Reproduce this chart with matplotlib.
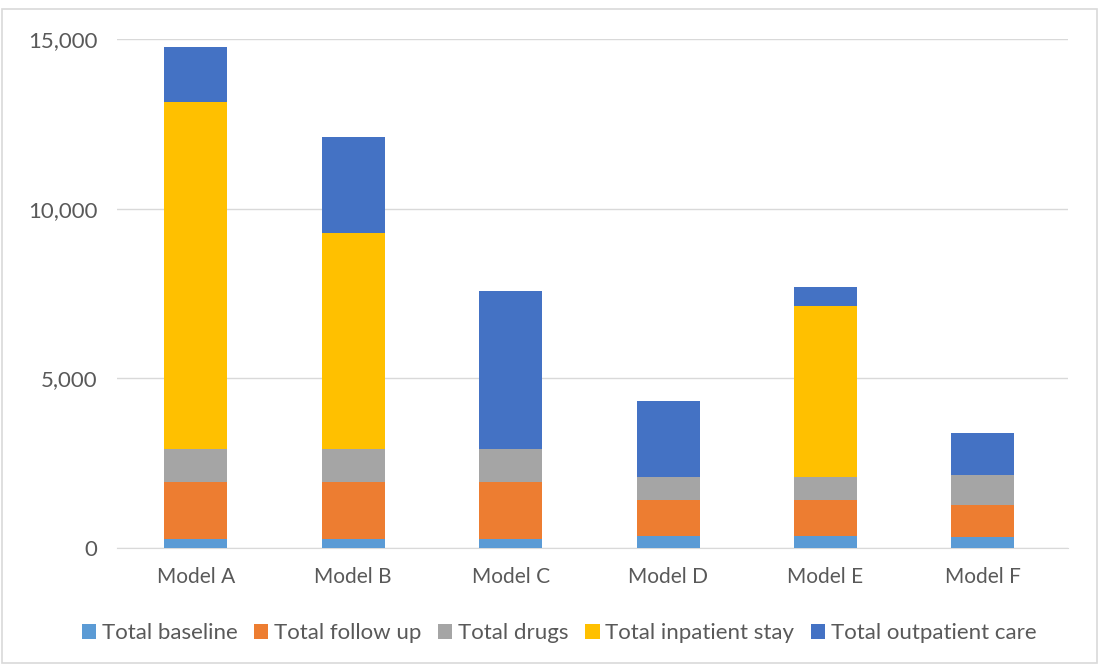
import matplotlib
matplotlib.use("Agg")
import matplotlib.pyplot as plt
from matplotlib.ticker import FuncFormatter
from matplotlib.patches import Rectangle
import numpy as np

models = ["Model A", "Model B", "Model C", "Model D", "Model E", "Model F"]
baseline = [260, 260, 260, 350, 350, 320]
follow_up = [1690, 1690, 1690, 1060, 1060, 950]
drugs = [960, 960, 960, 670, 670, 880]
inpatient = [10220, 6370, 0, 0, 5050, 0]
outpatient = [1640, 2830, 4660, 2250, 560, 1250]

series_names = ["Total baseline", "Total follow up", "Total drugs",
                "Total inpatient stay", "Total outpatient care"]
colors = ["#5B9BD5", "#ED7D31", "#A5A5A5", "#FFC000", "#4472C4"]

plt.rcParams['font.family'] = ['Lato', 'DejaVu Sans']

fig = plt.figure(figsize=(10.99, 6.64), dpi=100)
ax = fig.add_axes([117/1099, 1-548/664, (1068-117)/1099, (548-39)/664])

x = np.arange(len(models))
bottom = np.zeros(len(models))
handles = []
for vals, name, c in zip([baseline, follow_up, drugs, inpatient, outpatient], series_names, colors):
    h = ax.bar(x, vals, 0.4, bottom=bottom, color=c, label=name, zorder=3)
    handles.append(h)
    bottom += np.array(vals)

ax.set_xlim(-0.5, len(models) - 0.5 + 0.04)
ax.set_ylim(0, 15000)
ax.set_yticks([0, 5000, 10000, 15000])
ax.yaxis.set_major_formatter(FuncFormatter(lambda v, p: f"{int(v):,}"))
ax.set_xticks(x)
ax.set_xticklabels(models)
ax.grid(axis='y', color='#D9D9D9', linewidth=1, zorder=0)
for s in ['top', 'right', 'left']:
    ax.spines[s].set_visible(False)
ax.spines['bottom'].set_color('#D9D9D9')
ax.tick_params(axis='both', length=0, colors='#595959')
ax.tick_params(axis='x', labelsize=15, pad=14)
ax.tick_params(axis='y', labelsize=16, pad=14)

leg = fig.legend(handles=handles, labels=series_names, loc='center', bbox_to_anchor=(559/1099, 1-633/664),
                 ncol=5, frameon=False, fontsize=16, handlelength=0.65, handleheight=0.65,
                 handletextpad=0.25, columnspacing=0.75)
for t in leg.get_texts():
    t.set_color('#595959')

fig.patches.append(Rectangle((0.002, 0.002), 0.996, 0.985, transform=fig.transFigure,
                             fill=False, edgecolor='#D9D9D9', linewidth=1.2))

fig.savefig("out.png", dpi=100)
